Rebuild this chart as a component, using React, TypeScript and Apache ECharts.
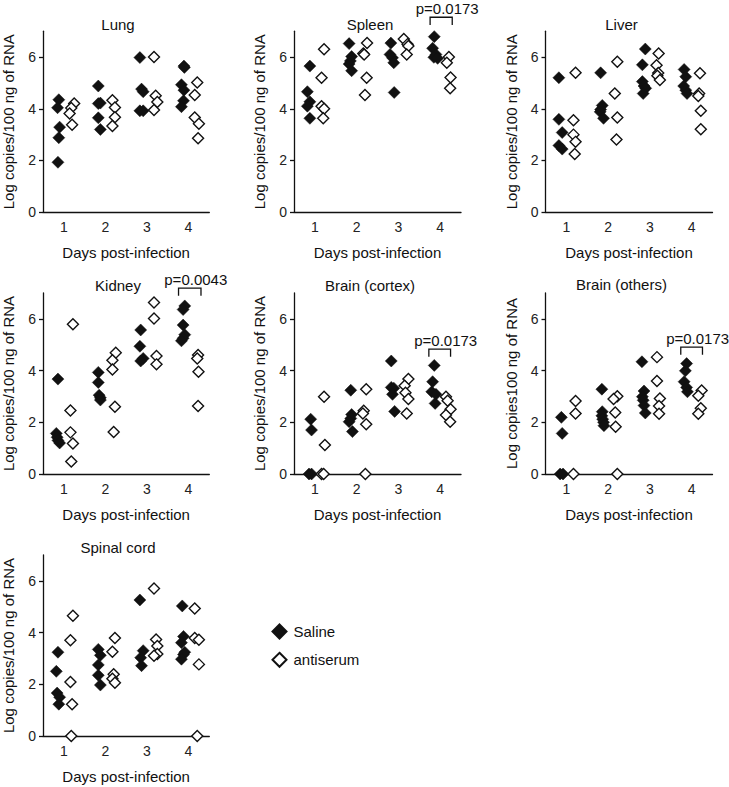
import React, { useEffect, useRef } from 'react';
import * as echarts from 'echarts';

const FONT = '"Liberation Sans", Arial, Helvetica, sans-serif';

const panelTitles = ['Lung', 'Spleen', 'Liver', 'Kidney', 'Brain (cortex)', 'Brain (others)', 'Spinal cord'];
const yAxisNames = [
  'Log copies/100 ng of RNA',
  'Log copies/100 ng of RNA',
  'Log copies/100 ng of RNA',
  'Log copies/100 ng of RNA',
  'Log copies/100 ng of RNA',
  'Log copies100 ng of RNA',
  'Log copies/100 ng of RNA',
];
const xAxisName = 'Days post-infection';
const dayTicks = [1, 2, 3, 4];
const yTicks = [0, 2, 4, 6];
const seriesNames = ['Saline', 'antiserum'];

// points: [day position (with visual jitter), log copies / 100 ng RNA]
const lungSaline = [
  [0.88, 4.35], [0.85, 4.04], [0.9, 3.29], [0.88, 2.88], [0.86, 1.93],
  [1.83, 4.88], [1.88, 4.22], [1.83, 4.2], [1.83, 3.65], [1.88, 3.2],
  [2.83, 5.98], [2.87, 4.76], [2.91, 4.66], [2.83, 3.92], [2.91, 3.92],
  [3.89, 5.65], [3.9, 5.6], [3.83, 4.93], [3.89, 4.72], [3.88, 4.31], [3.83, 4.08],
];
const lungAnti = [
  [1.25, 4.2], [1.18, 4.03], [1.14, 3.82], [1.2, 3.38],
  [2.17, 4.33], [2.23, 4.05], [2.23, 3.67], [2.17, 3.33],
  [3.17, 6.0], [3.21, 4.5], [3.25, 4.26], [3.17, 3.95],
  [4.21, 5.02], [4.15, 4.53], [4.15, 3.66], [4.25, 3.42], [4.23, 2.86],
];
const spleenSaline = [
  [0.88, 5.65], [0.82, 4.66], [0.88, 4.27], [0.82, 4.1], [0.88, 3.63],
  [1.82, 6.52], [1.88, 6.02], [1.85, 5.85], [1.82, 5.73], [1.88, 5.47],
  [2.82, 6.54], [2.8, 6.1], [2.86, 5.97], [2.89, 5.78], [2.9, 4.63],
  [3.86, 6.79], [3.82, 6.34], [3.9, 6.1], [3.85, 5.99], [3.94, 5.95],
];
const spleenAnti = [
  [1.22, 6.3], [1.16, 5.2], [1.16, 4.1], [1.22, 4.0], [1.2, 3.63],
  [2.25, 6.54], [2.16, 6.14], [2.18, 6.1], [2.24, 5.2], [2.2, 4.53],
  [3.13, 6.7], [3.22, 6.5], [3.24, 6.43], [3.2, 6.1],
  [4.21, 6.0], [4.16, 5.78], [4.25, 5.21], [4.24, 4.79],
];
const liverSaline = [
  [0.82, 5.2], [0.82, 3.59], [0.9, 3.08], [0.82, 2.58], [0.9, 2.44],
  [1.82, 5.39], [1.86, 4.13], [1.82, 3.97], [1.81, 3.88], [1.89, 3.63],
  [2.89, 6.31], [2.82, 5.7], [2.82, 5.05], [2.86, 4.88], [2.9, 4.79], [2.84, 4.59],
  [3.82, 5.52], [3.86, 5.24], [3.81, 4.88], [3.86, 4.72], [3.89, 4.59],
];
const liverAnti = [
  [1.22, 5.39], [1.17, 3.56], [1.17, 3.0], [1.22, 2.72], [1.2, 2.25],
  [2.22, 5.82], [2.16, 4.59], [2.22, 3.66], [2.2, 2.81],
  [3.21, 6.14], [3.16, 5.68], [3.2, 5.38], [3.18, 5.28], [3.24, 5.11],
  [4.2, 5.37], [4.18, 4.59], [4.16, 4.49], [4.22, 3.92], [4.22, 3.21],
];
const kidneySaline = [
  [0.86, 3.67], [0.82, 1.57], [0.84, 1.42], [0.86, 1.3], [0.9, 1.2],
  [1.83, 3.93], [1.83, 3.54], [1.85, 3.05], [1.88, 2.95], [1.88, 2.86],
  [2.85, 5.57], [2.83, 4.94], [2.91, 4.47], [2.85, 4.37],
  [3.91, 6.5], [3.87, 6.36], [3.87, 5.76], [3.91, 5.39], [3.87, 5.25], [3.83, 5.15],
];
const kidneyAnti = [
  [1.22, 5.79], [1.16, 2.46], [1.16, 1.61], [1.22, 1.18], [1.18, 0.48],
  [2.25, 4.69], [2.17, 4.4], [2.17, 4.04], [2.23, 2.6], [2.2, 1.62],
  [3.17, 6.63], [3.17, 6.01], [3.23, 4.56], [3.23, 4.24],
  [4.23, 4.6], [4.21, 4.47], [4.24, 3.95], [4.23, 2.63],
];
const cortexSaline = [
  [0.9, 2.12], [0.92, 1.7], [0.86, 0.0], [0.92, 0.0],
  [1.86, 3.24], [1.88, 2.3], [1.86, 2.15], [1.82, 2.02], [1.9, 1.64],
  [2.83, 4.37], [2.83, 3.35], [2.89, 3.32], [2.86, 3.08], [2.91, 2.42],
  [3.86, 4.2], [3.82, 3.57], [3.8, 3.18], [3.9, 3.08], [3.88, 2.73],
];
const cortexAnti = [
  [1.22, 2.99], [1.24, 1.12], [1.16, 0.0], [1.21, 0.0],
  [2.23, 3.28], [2.17, 2.45], [2.15, 2.34], [2.23, 1.92], [2.21, 0.0],
  [3.24, 3.67], [3.15, 3.41], [3.17, 3.14], [3.24, 2.9], [3.2, 2.34],
  [4.14, 2.99], [4.18, 2.83], [4.25, 2.5], [4.14, 2.28], [4.24, 2.02],
];
const othersSaline = [
  [0.88, 2.19], [0.9, 1.57], [0.85, 0.0], [0.92, 0.0],
  [1.85, 3.28], [1.86, 2.41], [1.85, 2.25], [1.87, 2.12], [1.89, 2.0], [1.9, 1.87],
  [2.81, 4.34], [2.86, 3.21], [2.82, 2.99], [2.84, 2.85], [2.86, 2.65], [2.89, 2.36],
  [3.88, 4.27], [3.85, 3.99], [3.82, 3.57], [3.88, 3.35], [3.9, 3.18],
];
const othersAnti = [
  [1.22, 2.82], [1.22, 2.34], [1.17, 0.0],
  [2.22, 3.01], [2.13, 2.9], [2.17, 2.38], [2.18, 1.83], [2.22, 0.0],
  [3.17, 4.52], [3.17, 3.6], [3.24, 2.92], [3.22, 2.63], [3.22, 2.33],
  [4.24, 3.23], [4.16, 3.03], [4.22, 2.54], [4.16, 2.33],
];
const spinalSaline = [
  [0.86, 3.24], [0.82, 2.5], [0.84, 1.66], [0.9, 1.5], [0.88, 1.23],
  [1.83, 3.35], [1.88, 3.12], [1.83, 2.75], [1.83, 2.35], [1.88, 1.97],
  [2.83, 5.26], [2.91, 3.3], [2.85, 3.03], [2.87, 2.72],
  [3.85, 5.03], [3.88, 3.85], [3.83, 3.61], [3.91, 3.24], [3.88, 3.15], [3.83, 2.97],
];
const spinalAnti = [
  [1.22, 4.65], [1.16, 3.7], [1.16, 2.09], [1.2, 1.23], [1.18, 0.0],
  [2.23, 3.79], [2.17, 3.26], [2.2, 2.39], [2.17, 2.21], [2.23, 2.06],
  [3.17, 5.7], [3.22, 3.73], [3.25, 3.48], [3.25, 3.17], [3.17, 3.1],
  [4.15, 4.93], [4.15, 3.79], [4.25, 3.72], [4.25, 2.77], [4.21, 0.0],
];

const salineData = [lungSaline, spleenSaline, liverSaline, kidneySaline, cortexSaline, othersSaline, spinalSaline];
const antiData = [lungAnti, spleenAnti, liverAnti, kidneyAnti, cortexAnti, othersAnti, spinalAnti];

// significance brackets: panel index, label, [x start, x end, bracket top value]
const pPanels = [1, 3, 4, 5];
const pLabels = ['p=0.0173', 'p=0.0043', 'p=0.0173', 'p=0.0173'];
const pBrackets = [
  [3.76, 4.29, 7.54],
  [3.76, 4.3, 7.19],
  [3.73, 4.25, 4.83],
  [3.74, 4.26, 4.91],
];

// layout (pixels)
const colLeft = [42.3, 294, 545.5];
const rowTop = [31.2, 293, 555];
const gridW = 167;
const gridH = 181;
const titlePos = [
  [118, 24], [370, 24], [621.5, 24],
  [118, 285], [370, 285.5], [621.5, 284],
  [118, 547],
];

export default function App() {
  const ref = useRef<HTMLDivElement>(null);
  useEffect(() => {
    if (!ref.current) return;
    const chart = echarts.init(ref.current, undefined, { renderer: 'svg' });
    const grids: any[] = [];
    const xAxes: any[] = [];
    const yAxes: any[] = [];
    const series: any[] = [];
    panelTitles.forEach((_, i) => {
      const col = i % 3;
      const row = Math.floor(i / 3);
      grids.push({ left: colLeft[col], top: rowTop[row], width: gridW, height: gridH, containLabel: false });
      xAxes.push({
        type: 'value', gridIndex: i, min: 0.5, max: 4.5, interval: 0.5,
        name: xAxisName, nameLocation: 'middle', nameGap: 33,
        nameTextStyle: { fontSize: 15, color: '#111', fontFamily: FONT },
        axisLine: { show: true, onZero: false, lineStyle: { color: '#111', width: 1.3 } },
        axisTick: { show: false },
        splitLine: { show: false },
        axisLabel: {
          customValues: dayTicks,
          margin: 8, fontSize: 14, color: '#222', fontFamily: FONT,
          formatter: (v: number) => (Number.isInteger(v) && v >= 1 && v <= 4 ? String(v) : ''),
        },
      });
      yAxes.push({
        type: 'value', gridIndex: i, min: 0, max: 7, interval: 1,
        name: yAxisNames[i], nameLocation: 'middle', nameGap: 27,
        nameTextStyle: { fontSize: 15, color: '#111', fontFamily: FONT },
        axisLine: { show: true, lineStyle: { color: '#111', width: 1.3 } },
        axisTick: { show: true, length: 4, customValues: yTicks, lineStyle: { color: '#111', width: 1.3 } },
        splitLine: { show: false },
        axisLabel: {
          customValues: yTicks,
          margin: 7, fontSize: 14, color: '#222', fontFamily: FONT,
          formatter: (v: number) => (v % 2 === 0 ? String(v) : ''),
        },
      });
      series.push({
        type: 'scatter', name: seriesNames[0], xAxisIndex: i, yAxisIndex: i,
        symbol: 'diamond', symbolSize: 12,
        itemStyle: { color: '#111', borderColor: '#111', borderWidth: 0.5, opacity: 1 },
        data: salineData[i], z: 3,
      });
      series.push({
        type: 'scatter', name: seriesNames[1], xAxisIndex: i, yAxisIndex: i,
        symbol: 'diamond', symbolSize: 11,
        itemStyle: { color: '#fff', borderColor: '#111', borderWidth: 1.4, opacity: 1 },
        data: antiData[i], z: 4,
      });
    });
    pPanels.forEach((pi, k) => {
      const label = pLabels[k];
      series.push({
        type: 'custom', xAxisIndex: pi, yAxisIndex: pi, clip: false, silent: true,
        data: [pBrackets[k]],
        encode: { x: [0, 1], y: 2 },
        renderItem: (params: any, api: any) => {
          const x1 = api.value(0);
          const x2 = api.value(1);
          const yt = api.value(2);
          const a = api.coord([x1, yt]);
          const b = api.coord([x2, yt]);
          const leg = api.coord([x1, yt - 0.3]);
          return {
            type: 'group',
            children: [
              {
                type: 'polyline',
                shape: { points: [[a[0], leg[1]], [a[0], a[1]], [b[0], b[1]], [b[0], leg[1]]] },
                style: { stroke: '#111', fill: 'none', lineWidth: 1.3 },
              },
              {
                type: 'text',
                x: (a[0] + b[0]) / 2 + 6,
                y: a[1] - 9,
                style: { text: label, align: 'center', verticalAlign: 'middle', fontSize: 15, fill: '#111', fontFamily: FONT },
              },
            ],
          };
        },
      });
    });
    const graphics = panelTitles.map((t, i) => ({
      type: 'text',
      x: titlePos[i][0],
      y: titlePos[i][1],
      style: { text: t, align: 'center', verticalAlign: 'middle', fontSize: 15, fill: '#111', fontFamily: FONT },
    }));
    chart.setOption({
      animation: false,
      backgroundColor: '#fff',
      grid: grids,
      xAxis: xAxes,
      yAxis: yAxes,
      series,
      graphic: graphics,
      legend: {
        data: [
          { name: 'Saline', icon: 'diamond' },
          { name: 'antiserum', icon: 'diamond' },
        ],
        orient: 'vertical',
        left: 266.5,
        top: 618.5,
        itemWidth: 14,
        itemHeight: 14,
        itemGap: 12.3,
        selectedMode: false,
        textStyle: { fontSize: 15, color: '#111', fontFamily: FONT, padding: [0, 0, 0, 2] },
      },
    });
    return () => chart.dispose();
  }, []);
  return <div ref={ref} style={{ position: 'absolute', left: 0, top: 0, width: 729, height: 787 }} />;
}
